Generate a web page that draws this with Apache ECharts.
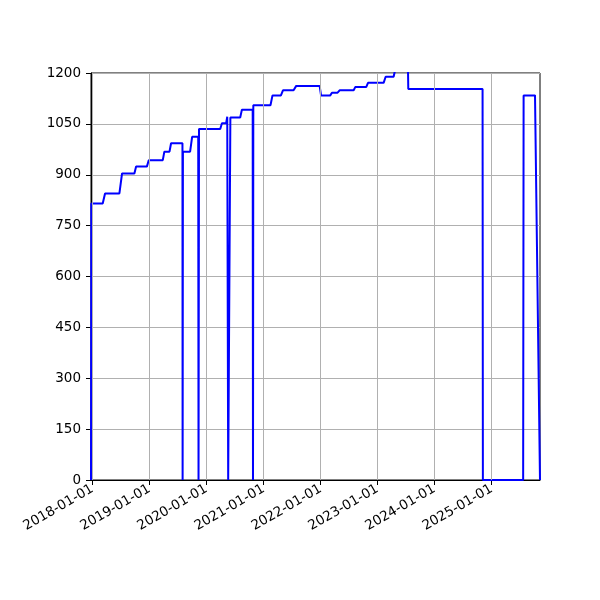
<!DOCTYPE html>
<html>
<head>
<meta charset="utf-8">
<script src="https://cdn.jsdelivr.net/npm/echarts@6/dist/echarts.min.js"></script>
<style>
html,body{margin:0;padding:0;background:#fff;}
#chart{width:600px;height:600px;}
</style>
</head>
<body>
<div id="chart"></div>
<script>
var dates = [
'2017-12-22','2017-12-24',
'2018-03-07','2018-03-22',
'2018-06-22','2018-07-09',
'2018-09-26','2018-10-07',
'2018-12-15','2018-12-27',
'2019-03-27','2019-04-06',
'2019-05-09','2019-05-19',
'2019-07-31','2019-08-01','2019-08-03',
'2019-09-18','2019-10-01',
'2019-11-09','2019-11-11','2019-11-14',
'2020-03-29','2020-04-09',
'2020-05-06','2020-05-13','2020-05-19','2020-05-30','2020-06-02',
'2020-08-04','2020-08-15',
'2020-10-23','2020-10-25','2020-10-27',
'2021-02-14','2021-02-27',
'2021-04-22','2021-05-05',
'2021-07-12','2021-07-29',
'2021-12-26','2022-01-04',
'2022-03-04','2022-03-15',
'2022-04-20','2022-05-03',
'2022-08-01','2022-08-12',
'2022-10-21','2022-11-01',
'2023-02-09','2023-02-22',
'2023-04-14','2023-04-27',
'2023-07-15','2023-07-17',
'2024-11-04','2024-11-06',
'2025-07-22','2025-07-25',
'2025-10-06','2025-11-07'
];
var values = [
0,815,
815,845,
845,904,
904,924,
924,943,
943,968,
968,993,
993,0,968,
968,1012,
1012,0,1035,
1035,1052,
1052,1071,0,0,1069,
1069,1092,
1092,0,1105,
1105,1134,
1134,1149,
1149,1162,
1162,1134,
1134,1142,
1142,1149,
1149,1159,
1159,1171,
1171,1189,
1189,1215,
1215,1153,
1153,0,
0,1134,
1134,0
];
var yTicks = [0,150,300,450,600,750,900,1050,1200];
var xTickLabels = ['2018-01-01','2019-01-01','2020-01-01','2021-01-01','2022-01-01','2023-01-01','2024-01-01','2025-01-01'];

var ts = function(s){ var p = s.split('-'); return Date.UTC(+p[0], +p[1]-1, +p[2]); };
var seriesData = dates.map(function(d,i){ return [ts(d), values[i]]; });
var xTickVals = xTickLabels.map(ts);
function fmt(v){
  var d = new Date(v);
  var m = d.getUTCMonth()+1, dd = d.getUTCDate();
  return d.getUTCFullYear() + '-' + (m<10?'0':'') + m + '-' + (dd<10?'0':'') + dd;
}

var chart = echarts.init(document.getElementById('chart'), null, {renderer:'canvas'});
chart.setOption({
  animation: false,
  textStyle: {fontFamily: 'DejaVu Sans'},
  grid: {left: 91, right: 60, top: 73, bottom: 120, show: true, borderColor: '#000', borderWidth: 1, containLabel: false},
  xAxis: {
    type: 'value',
    min: ts(dates[0]),
    max: ts(dates[dates.length-1]),
    axisLine: {show: true, onZero: false, lineStyle: {color: '#000', width: 1}},
    axisTick: {show: true, length: 5, lineStyle: {color: '#000'}, customValues: xTickVals},
    axisLabel: {
      customValues: xTickVals,
      rotate: 30, fontSize: 13.5, color: '#000', margin: 8,
      fontFamily: 'DejaVu Sans',
      formatter: function(v){ return fmt(v); }
    },
    splitLine: {show: false}
  },
  yAxis: {
    type: 'value',
    min: 0, max: 1200, interval: 150,
    axisLine: {show: true, lineStyle: {color: '#000', width: 1}},
    axisTick: {show: true, length: 5, lineStyle: {color: '#000'}},
    axisLabel: {fontSize: 13.5, color: '#000', margin: 10, fontFamily: 'DejaVu Sans',
      formatter: function(v){ return String(v); }},
    splitLine: {show: true, lineStyle: {color: '#b0b0b0', width: 1}}
  },
  series: [
    {
      type: 'line',
      data: xTickVals.map(function(v){ return [v, 0]; }),
      showSymbol: false, silent: true,
      lineStyle: {width: 0},
      markLine: {
        silent: true, symbol: ['none','none'], label: {show: false},
        lineStyle: {color: '#b0b0b0', width: 1, type: 'solid'},
        data: xTickVals.map(function(v){ return {xAxis: v}; })
      },
      z: 1
    },
    {
      type: 'line',
      data: seriesData,
      showSymbol: false,
      clip: true,
      lineStyle: {color: '#0000ff', width: 2},
      z: 3
    }
  ]
});
</script>
</body>
</html>
